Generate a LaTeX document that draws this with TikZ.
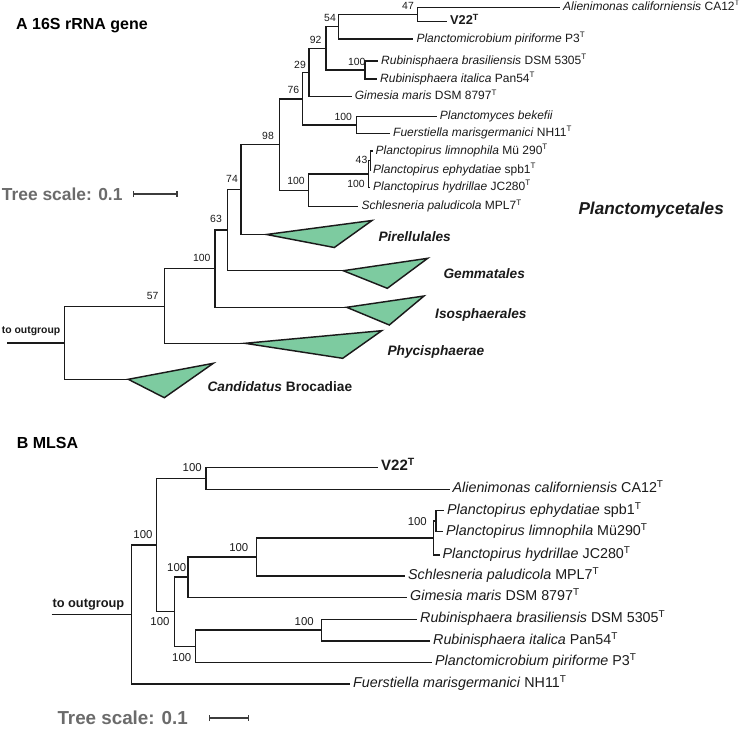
\documentclass[tikz,border=0pt]{standalone}
\usepackage{fontspec}
\setmainfont{Liberation Sans}
\usepackage{xcolor}
\usepackage{tikz}
\usetikzlibrary{arrows.meta,positioning}
\definecolor{cInk}{HTML}{1A1A1A}
\definecolor{cClade}{HTML}{7DCBA0}
\definecolor{cScale}{HTML}{6B6B6B}
\newcommand{\typeT}{\textsuperscript{T}}
\tikzset{
  branch/.style={draw=cInk,line width=1.45pt},
  clade/.style={draw=cInk,fill=cClade,line width=1.45pt,line join=miter},
  leafA/.style={anchor=west,inner xsep=3pt,inner ysep=0pt,text=cInk,font=\fontsize{12}{14}\selectfont,text height=8.6pt,text depth=2.6pt},
  leafB/.style={anchor=west,inner xsep=3pt,inner ysep=0pt,text=cInk,font=\fontsize{14.3}{16}\selectfont,text height=10.2pt,text depth=3pt},
  supA/.style={inner sep=0pt,text=cInk,font=\fontsize{10.4}{12}\selectfont,text height=7.4pt,text depth=0pt},
  supB/.style={inner sep=0pt,text=cInk,font=\fontsize{11.4}{13}\selectfont,text height=8.2pt,text depth=0pt},
  grp/.style={anchor=west,inner sep=0pt,text=cInk,font=\fontsize{13.7}{16}\selectfont\bfseries,text height=9.8pt,text depth=0pt},
  ttl/.style={anchor=west,inner sep=0pt,text=black,font=\fontsize{16}{18}\selectfont\bfseries,text height=11.5pt,text depth=0pt},
  sclA/.style={anchor=west,inner sep=0pt,text=cScale,font=\fontsize{17.4}{20}\selectfont\bfseries,text height=12.5pt,text depth=0pt},
  sclB/.style={anchor=west,inner sep=0pt,text=cScale,font=\fontsize{18.8}{22}\selectfont\bfseries,text height=13.5pt,text depth=0pt},
  sbar/.style={{Bar[width=6pt]}-{Bar[width=6pt]},line width=1.45pt,draw=cInk!85},
  outA/.style={anchor=west,inner sep=0pt,text=cInk,font=\fontsize{10.4}{12}\selectfont\bfseries,text height=7.5pt,text depth=0pt},
  outB/.style={anchor=west,inner sep=0pt,text=cInk,font=\fontsize{12.8}{15}\selectfont\bfseries,text height=9.2pt,text depth=0pt},
}

\begin{document}
\begin{tikzpicture}[x=1pt,y=-1pt]
  \useasboundingbox (0,0) rectangle (746,728);
  \node[ttl] (ttlA) at (16,24) {A 16S rRNA gene};
  \node[ttl] (ttlB) at (16.7,442.7) {B MLSA};

  \node[leafA] (aAlien) at (560,7.3) {\textit{Alienimonas californiensis} CA12\typeT};
  \node[leafA,font=\fontsize{12.8}{14}\selectfont\bfseries] (aV22) at (447,21.7) {V22\typeT};
  \node[leafA] (aPmic) at (413.3,39) {\textit{Planctomicrobium piriforme} P3\typeT};
  \node[leafA] (aRbra) at (378,61) {\textit{Rubinisphaera brasiliensis} DSM 5305\typeT};
  \node[leafA] (aRita) at (377,79) {\textit{Rubinisphaera italica} Pan54\typeT};
  \node[leafA] (aGim) at (351.7,96.7) {\textit{Gimesia maris} DSM 8797\typeT};
  \node[leafA] (aPbek) at (436.7,116.7) {\textit{Planctomyces bekefii}};
  \node[leafA] (aFmar) at (390,133.3) {\textit{Fuerstiella marisgermanici} NH11\typeT};
  \node[leafA] (aPlim) at (372.5,151) {\textit{Planctopirus limnophila} Mü 290\typeT};
  \node[leafA] (aPeph) at (370,170) {\textit{Planctopirus ephydatiae} spb1\typeT};
  \node[leafA] (aPhyd) at (370,187.3) {\textit{Planctopirus hydrillae} JC280\typeT};
  \node[leafA] (aSchl) at (358.3,206.7) {\textit{Schlesneria paludicola} MPL7\typeT};

  \coordinate (n47) at (417.3,14.5);
  \coordinate (n54) at (338.3,26.75);
  \coordinate (nRub) at (365,70);
  \coordinate (n92) at (326,48.4);
  \coordinate (n29) at (309,72.5);
  \coordinate (nPla) at (356.7,125);
  \coordinate (n76) at (302.7,98.8);
  \coordinate (n43) at (370.5,160.5);
  \coordinate (nPpi) at (368.5,174);
  \coordinate (nSch) at (308.5,190.3);
  \coordinate (n98) at (279.3,144.6);
  \coordinate (n74) at (241,189.3);
  \coordinate (n63) at (227.7,230);
  \coordinate (nA100) at (215,268.7);
  \coordinate (n57) at (164.3,306.3);
  \coordinate (nRootA) at (64.3,342.8);
  \coordinate (ogA) at (7.3,342.8);
  \coordinate (cPir) at (266.5,234.5);
  \coordinate (cGem) at (343.3,270.7);
  \coordinate (cIso) at (346.7,307.3);
  \coordinate (cPhy) at (245,343.3);
  \coordinate (cCan) at (128.3,379.3);

  \draw[branch] (n47) |- (aAlien.west); \draw[branch] (n47) |- (aV22.west);
  \draw[branch] (n54) |- (n47); \draw[branch] (n54) |- (aPmic.west);
  \draw[branch] (nRub) |- (aRbra.west); \draw[branch] (nRub) |- (aRita.west);
  \draw[branch] (n92) |- (n54); \draw[branch] (n92) |- (nRub);
  \draw[branch] (n29) |- (n92); \draw[branch] (n29) |- (aGim.west);
  \draw[branch] (nPla) |- (aPbek.west); \draw[branch] (nPla) |- (aFmar.west);
  \draw[branch] (n76) |- (n29); \draw[branch] (n76) |- (nPla);
  \draw[branch] (n43) |- (aPlim.west); \draw[branch] (n43) |- (aPeph.west);
  \draw[branch] (nPpi) |- (n43); \draw[branch] (nPpi) |- (aPhyd.west);
  \draw[branch] (nSch) |- (nPpi); \draw[branch] (nSch) |- (aSchl.west);
  \draw[branch] (n98) |- (n76); \draw[branch] (n98) |- (nSch);
  \draw[branch] (n74) |- (n98); \draw[branch] (n74) |- (cPir);
  \draw[branch] (n63) |- (n74); \draw[branch] (n63) |- (cGem);
  \draw[branch] (nA100) |- (n63); \draw[branch] (nA100) |- (cIso);
  \draw[branch] (n57) |- (nA100); \draw[branch] (n57) |- (cPhy);
  \draw[branch] (nRootA) |- (n57); \draw[branch] (nRootA) |- (cCan);
  \draw[branch] (ogA) -- (nRootA);

  \draw[clade] (cPir) -- (372,220.5) -- (334.3,247.5) -- cycle;
  \draw[clade] (cGem) -- (427.7,258.3) -- (387.3,288.3) -- cycle;
  \draw[clade] (cIso) -- (424,296) -- (389.3,325) -- cycle;
  \draw[clade] (cPhy) -- (381.7,330.7) -- (342.7,358.3) -- cycle;
  \draw[clade] (cCan) -- (213.3,363.3) -- (164.3,397.7) -- cycle;

  \node[grp] (gPir) at (378.3,236.7) {\itshape Pirellulales};
  \node[grp] (gGem) at (443.3,274) {\itshape Gemmatales};
  \node[grp] (gIso) at (435,313.3) {\itshape Isosphaerales};
  \node[grp] (gPhy) at (387.3,350.7) {\itshape Phycisphaerae};
  \node[grp] (gCan) at (207.3,386.7) {\textit{Candidatus} Brocadiae};
  \node[grp,font=\fontsize{17.2}{20}\selectfont\bfseries\itshape,text height=12.3pt] (gPlm) at (578.3,208.3) {Planctomycetales};

  \node[supA] (s47) at (408,6) {47};
  \node[supA] (s54) at (330,18) {54};
  \node[supA] (s92) at (315.7,39.3) {92};
  \node[supA] (s29) at (300,65) {29};
  \node[supA] (s76) at (293.3,90) {76};
  \node[supA] (sRub) at (356.7,61.7) {100};
  \node[supA] (sPla) at (343.3,116.7) {100};
  \node[supA] (s98) at (268,135.7) {98};
  \node[supA] (s43) at (361.5,159.5) {43};
  \node[supA] (sPpi) at (356,183.5) {100};
  \node[supA] (sSch) at (296,180.5) {100};
  \node[supA] (s74) at (232,178.5) {74};
  \node[supA] (s63) at (216,219) {63};
  \node[supA] (sA100) at (201.7,257.7) {100};
  \node[supA] (s57) at (152.7,295.7) {57};

  \node[outA] (toA) at (1.7,330) {to outgroup};
  \node[sclA] (scA) at (1.7,194) {Tree scale: 0.1};
  \coordinate (sbA1) at (132.7,194); \coordinate (sbA2) at (177.7,194);
  \draw[sbar] (sbA1) -- (sbA2);

  \node[leafB,font=\fontsize{15}{17}\selectfont\bfseries] (bV22) at (378,467.3) {V22\typeT};
  \node[leafB] (bAlien) at (449.5,489.3) {\textit{Alienimonas californiensis} CA12\typeT};
  \node[leafB] (bPeph) at (444,510.7) {\textit{Planctopirus ephydatiae} spb1\typeT};
  \node[leafB] (bPlim) at (443,531.7) {\textit{Planctopirus limnophila} Mü290\typeT};
  \node[leafB] (bPhyd) at (439.5,555) {\textit{Planctopirus hydrillae} JC280\typeT};
  \node[leafB] (bSchl) at (405,576) {\textit{Schlesneria paludicola} MPL7\typeT};
  \node[leafB] (bGim) at (407,597.3) {\textit{Gimesia maris} DSM 8797\typeT};
  \node[leafB] (bRbra) at (417,619.3) {\textit{Rubinisphaera brasiliensis} DSM 5305\typeT};
  \node[leafB] (bRita) at (430,641) {\textit{Rubinisphaera italica} Pan54\typeT};
  \node[leafB] (bPmic) at (432,662.3) {\textit{Planctomicrobium piriforme} P3\typeT};
  \node[leafB] (bFmar) at (350,684) {\textit{Fuerstiella marisgermanici} NH11\typeT};

  \coordinate (nBa) at (206,478.3);
  \coordinate (nBp) at (436,521.2);
  \coordinate (nBq) at (433.3,538.1);
  \coordinate (nBe) at (256.7,557);
  \coordinate (nBd) at (188,577.2);
  \coordinate (nBr) at (321.7,630.2);
  \coordinate (nBf) at (195.3,646.3);
  \coordinate (nBc) at (174.7,611.7);
  \coordinate (nBb) at (156.7,545);
  \coordinate (nRootB) at (131.7,614.5);
  \coordinate (ogB) at (51.7,614.5);

  \draw[branch] (nBa) |- (bV22.west); \draw[branch] (nBa) |- (bAlien.west);
  \draw[branch] (nBp) |- (bPeph.west); \draw[branch] (nBp) |- (bPlim.west);
  \draw[branch] (nBq) |- (nBp); \draw[branch] (nBq) |- (bPhyd.west);
  \draw[branch] (nBe) |- (nBq); \draw[branch] (nBe) |- (bSchl.west);
  \draw[branch] (nBd) |- (nBe); \draw[branch] (nBd) |- (bGim.west);
  \draw[branch] (nBr) |- (bRbra.west); \draw[branch] (nBr) |- (bRita.west);
  \draw[branch] (nBf) |- (nBr); \draw[branch] (nBf) |- (bPmic.west);
  \draw[branch] (nBc) |- (nBd); \draw[branch] (nBc) |- (nBf);
  \draw[branch] (nBb) |- (nBa); \draw[branch] (nBb) |- (nBc);
  \draw[branch] (nRootB) |- (nBb); \draw[branch] (nRootB) |- (bFmar.west);
  \draw[branch] (ogB) -- (nRootB);

  \node[supB] (sBa) at (192.2,467.3) {100};
  \node[supB] (sBb) at (143,534) {100};
  \node[supB] (sBp) at (417.3,521) {100};
  \node[supB] (sBe) at (238.8,547.7) {100};
  \node[supB] (sBd) at (176.7,567.7) {100};
  \node[supB] (sBc) at (160,621.7) {100};
  \node[supB] (sBf) at (181.7,657.3) {100};
  \node[supB] (sBr) at (304.2,621.7) {100};

  \node[outB] (toB) at (52.3,603.3) {to outgroup};
  \node[sclB] (scB) at (57.3,717.5) {Tree scale: 0.1};
  \coordinate (sbB1) at (209,718); \coordinate (sbB2) at (249.3,718);
  \draw[sbar] (sbB1) -- (sbB2);
\end{tikzpicture}
\end{document}
